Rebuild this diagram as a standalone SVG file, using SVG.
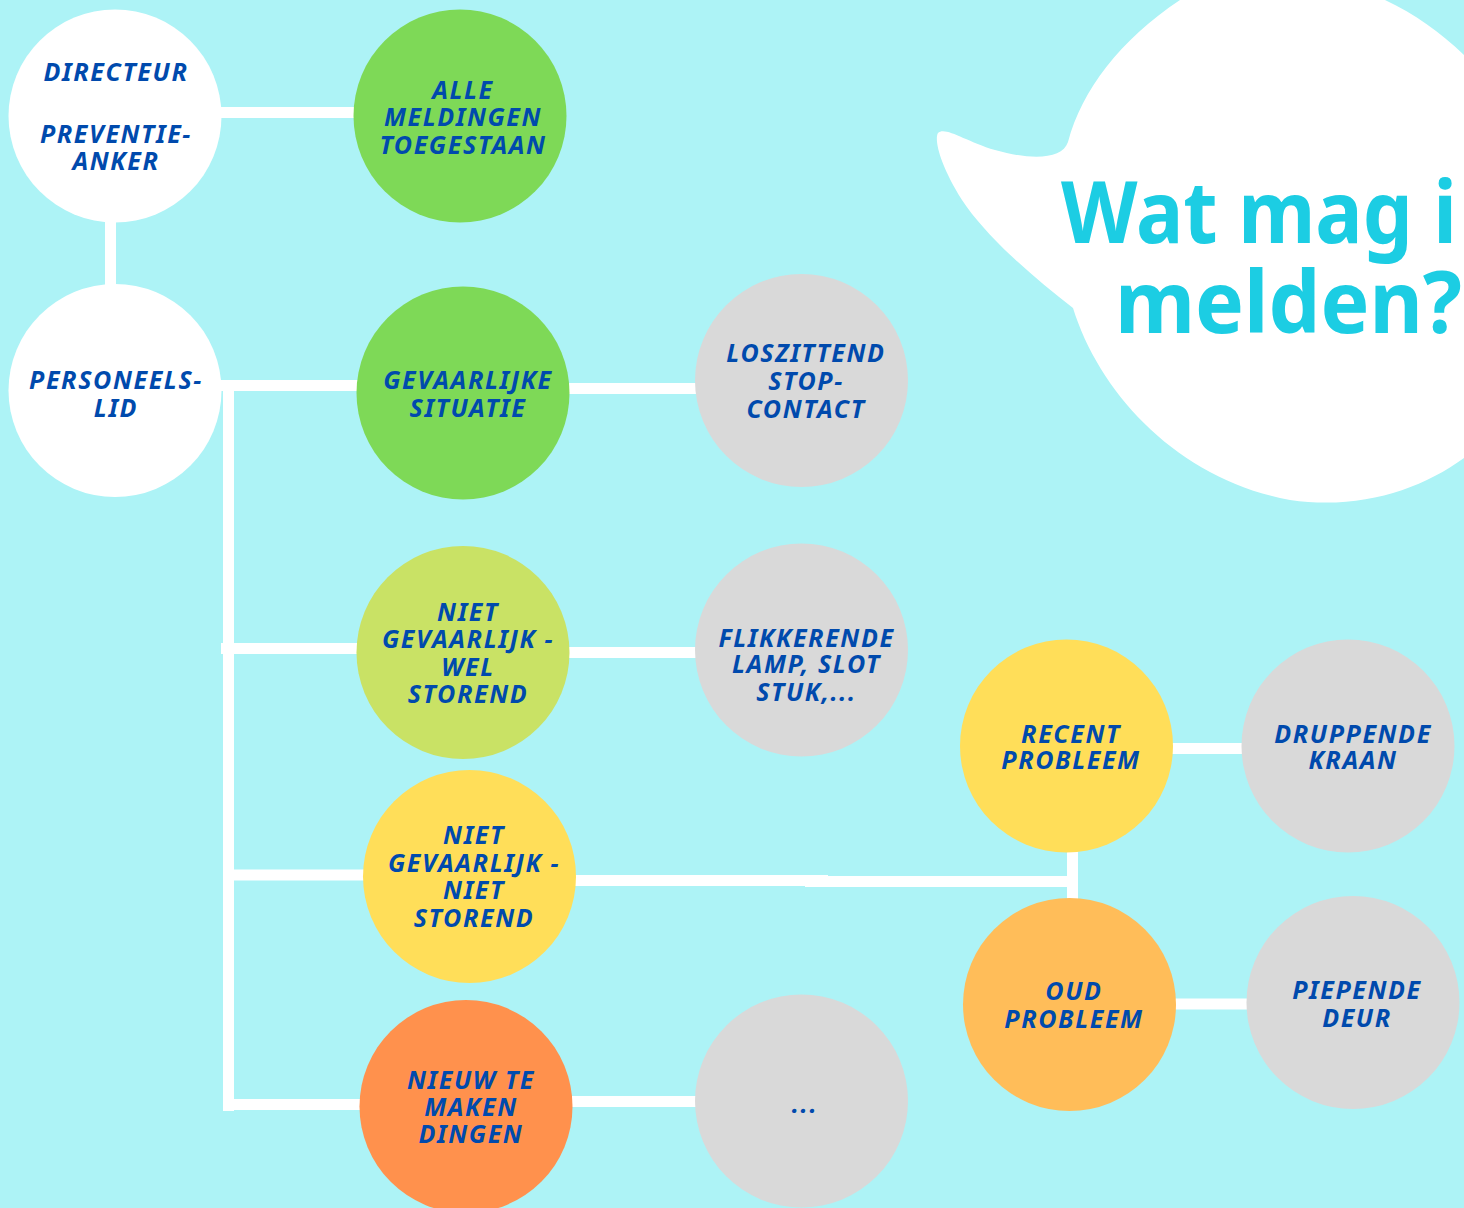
<svg xmlns="http://www.w3.org/2000/svg" width="1464" height="1208" viewBox="0 0 1464 1208">
<style>
.bg{fill:#adf3f6}
.white{fill:#ffffff}
.green{fill:#7ed957}
.lime{fill:#c9e265}
.yellow{fill:#ffde59}
.amber{fill:#ffbd59}
.orange{fill:#ff914d}
.grey{fill:#d9d9d9}
.lbl{font-family:"Noto Sans","Open Sans",sans-serif;font-weight:700;font-style:italic;font-size:25px;letter-spacing:1.6px;fill:#004aad;text-anchor:middle}
.title{font-family:"Noto Sans","Open Sans",sans-serif;font-weight:700;font-size:86px;fill:#1ccde3}
.conn{stroke:#ffffff;stroke-width:11;fill:none;stroke-linecap:butt}
</style>
<rect class="bg" x="0" y="0" width="1464" height="1208"/>

<g id="bubble">
<path class="white" d="M1180,0 C1120,40 1082,90 1068,142 C1062,160 1030,160 995,150 C965,141 945,126 938,133 C934,140 940,165 962,200 C985,235 1030,275 1073,308 C1100,395 1180,480 1290,500 C1360,510 1420,490 1464,458 L1464,55 C1440,32 1415,14 1385,0 Z"/>
<text class="title" x="1061" y="243" textLength="396" lengthAdjust="spacingAndGlyphs">Wat mag i</text>
<text class="title" x="1115" y="333" textLength="347" lengthAdjust="spacingAndGlyphs">melden?</text>
</g>

<g id="connectors">
<path class="conn" d="M200,112.5 H365"/>
<path class="conn" d="M110.5,200 V300"/>
<path class="conn" d="M200,385.5 H365"/>
<path class="conn" d="M228.5,380 V1111"/>
<path class="conn" d="M221,648.5 H365"/>
<path class="conn" d="M228,875 H370"/>
<path class="conn" d="M223,1104.5 H365"/>
<path class="conn" d="M560,388.5 H705"/>
<path class="conn" d="M560,652.5 H705"/>
<path class="conn" d="M565,880.5 H828 M805,881.5 H1078"/>
<path class="conn" d="M1072.5,840 V905"/>
<path class="conn" d="M1165,748.5 H1250"/>
<path class="conn" d="M1170,1004 H1255"/>
<path class="conn" d="M565,1101.5 H705"/>
</g>

<g id="n-directeur">
<circle class="white" cx="115" cy="116" r="106.5"/>
<text class="lbl" x="116" y="81">DIRECTEUR</text>
<text class="lbl" x="116" y="143">PREVENTIE-</text>
<text class="lbl" x="116" y="170">ANKER</text>
</g>
<g id="n-alle">
<circle class="green" cx="460" cy="116" r="106.5"/>
<text class="lbl" x="463" y="99">ALLE</text>
<text class="lbl" x="463" y="126">MELDINGEN</text>
<text class="lbl" x="463" y="154">TOEGESTAAN</text>
</g>
<g id="n-personeelslid">
<circle class="white" cx="115" cy="390.5" r="106.5"/>
<text class="lbl" x="116" y="389">PERSONEELS-</text>
<text class="lbl" x="116" y="417">LID</text>
</g>
<g id="n-gevaarlijk">
<circle class="green" cx="463" cy="393" r="106.5"/>
<text class="lbl" x="468" y="389">GEVAARLIJKE</text>
<text class="lbl" x="468" y="417">SITUATIE</text>
</g>
<g id="n-loszittend">
<circle class="grey" cx="801.5" cy="380.5" r="106.5"/>
<text class="lbl" x="806" y="362">LOSZITTEND</text>
<text class="lbl" x="806" y="390">STOP-</text>
<text class="lbl" x="806" y="418">CONTACT</text>
</g>
<g id="n-welstorend">
<circle class="lime" cx="463" cy="652.5" r="106.5"/>
<text class="lbl" x="468" y="621">NIET</text>
<text class="lbl" x="468" y="648">GEVAARLIJK -</text>
<text class="lbl" x="468" y="676">WEL</text>
<text class="lbl" x="468" y="703">STOREND</text>
</g>
<g id="n-flikkerende">
<circle class="grey" cx="801.5" cy="650" r="106.5"/>
<text class="lbl" x="806.5" y="647">FLIKKERENDE</text>
<text class="lbl" x="806.5" y="673">LAMP, SLOT</text>
<text class="lbl" x="806.5" y="701">STUK,...</text>
</g>
<g id="n-recent">
<circle class="yellow" cx="1066.5" cy="746" r="106.5"/>
<text class="lbl" x="1071" y="743">RECENT</text>
<text class="lbl" x="1071" y="769">PROBLEEM</text>
</g>
<g id="n-druppende">
<circle class="grey" cx="1348" cy="746" r="106.5"/>
<text class="lbl" x="1353" y="743">DRUPPENDE</text>
<text class="lbl" x="1353" y="769">KRAAN</text>
</g>
<g id="n-nietstorend">
<circle class="yellow" cx="469.5" cy="876.5" r="106.5"/>
<text class="lbl" x="474" y="844">NIET</text>
<text class="lbl" x="474" y="872">GEVAARLIJK -</text>
<text class="lbl" x="474" y="899">NIET</text>
<text class="lbl" x="474" y="927">STOREND</text>
</g>
<g id="n-oud">
<circle class="amber" cx="1069.5" cy="1004.5" r="106.5"/>
<text class="lbl" x="1074" y="1000">OUD</text>
<text class="lbl" x="1074" y="1028">PROBLEEM</text>
</g>
<g id="n-piepende">
<circle class="grey" cx="1353" cy="1002.5" r="106.5"/>
<text class="lbl" x="1357" y="999">PIEPENDE</text>
<text class="lbl" x="1357" y="1027">DEUR</text>
</g>
<g id="n-nieuw">
<circle class="orange" cx="466" cy="1106.5" r="106.5"/>
<text class="lbl" x="471" y="1089">NIEUW TE</text>
<text class="lbl" x="471" y="1116">MAKEN</text>
<text class="lbl" x="471" y="1143">DINGEN</text>
</g>
<g id="n-dots">
<circle class="grey" cx="801.5" cy="1101" r="106.5"/>
<text class="lbl" x="805" y="1113">...</text>
</g>
</svg>
